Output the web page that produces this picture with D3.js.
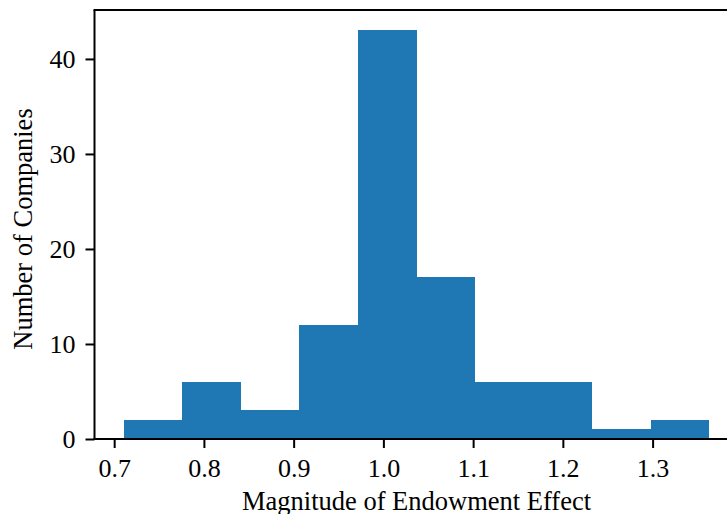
<!DOCTYPE html>
<html>
<head>
<meta charset="utf-8">
<script src="https://cdn.jsdelivr.net/npm/d3@7"></script>
<style>
  html, body { margin: 0; padding: 0; background: #fff; }
  svg { display: block; }
  text { font-family: "Liberation Serif", "Times New Roman", serif; fill: #000; }
</style>
</head>
<body>
<svg id="chart" width="727" height="514"></svg>
<script>
// ---- data ----
const binEdges = [0.7107, 0.7759, 0.8412, 0.9064, 0.9717, 1.0369, 1.1021, 1.1674, 1.2326, 1.2979, 1.3631];
const counts = [2, 6, 3, 12, 43, 17, 6, 6, 1, 2];
const xTicks = [0.7, 0.8, 0.9, 1.0, 1.1, 1.2, 1.3];
const yTicks = [0, 10, 20, 30, 40];
const xLabel = "Magnitude of Endowment Effect";
const yLabel = "Number of Companies";

// ---- layout ----
const svg = d3.select("#chart");
const pLeft = 94.5, pRight = 738.5, pTop = 10, pBottom = 439;
const xMin = binEdges[0], xMax = binEdges[binEdges.length - 1];
const xPad = (xMax - xMin) * 0.05;
const x = d3.scaleLinear().domain([xMin - xPad, xMax + xPad]).range([pLeft, pRight]);
const y = d3.scaleLinear().domain([0, d3.max(counts) * 1.05]).range([pBottom, pTop]);

const bins = counts.map((c, i) => ({ x0: binEdges[i], x1: binEdges[i + 1], c }));

svg.append("g").selectAll("rect").data(bins).join("rect")
  .attr("x", d => x(d.x0))
  .attr("width", d => x(d.x1) - x(d.x0))
  .attr("y", d => y(d.c))
  .attr("height", d => y(0) - y(d.c))
  .attr("fill", "#1f77b4")
  .attr("shape-rendering", "crispEdges");

// axes
const xAxis = d3.axisBottom(x).tickValues(xTicks).tickFormat(d3.format(".1f"))
  .tickSize(9).tickPadding(8);
const gx = svg.append("g").attr("transform", `translate(0,${pBottom})`).call(xAxis);
gx.select(".domain").remove();
gx.selectAll(".tick line").attr("stroke", "#000").attr("stroke-width", 2);
gx.selectAll(".tick text").style("font-size", "26px")
  .attr("y", 38).attr("dy", 0);

const yAxis = d3.axisLeft(y).tickValues(yTicks).tickFormat(d3.format("d"))
  .tickSize(9).tickPadding(10);
const gy = svg.append("g").attr("transform", `translate(${pLeft},0)`).call(yAxis);
gy.select(".domain").remove();
gy.selectAll(".tick line").attr("stroke", "#000").attr("stroke-width", 2);
gy.selectAll(".tick text").style("font-size", "26px")
  .attr("x", -19).attr("dy", "0.33em");

// spines
const sp = svg.append("g").attr("stroke", "#000").attr("stroke-width", 2).attr("fill", "none");
sp.append("line").attr("x1", pLeft).attr("x2", pLeft).attr("y1", pTop).attr("y2", pBottom + 1);
sp.append("line").attr("x1", pLeft - 1).attr("x2", pRight).attr("y1", pBottom).attr("y2", pBottom);
sp.append("line").attr("x1", pLeft - 1).attr("x2", pRight).attr("y1", pTop).attr("y2", pTop);
sp.append("line").attr("x1", pRight).attr("x2", pRight).attr("y1", pTop).attr("y2", pBottom);

// labels
svg.append("text").attr("x", (pLeft + pRight) / 2).attr("y", 510)
  .attr("text-anchor", "middle").style("font-size", "26.5px").text(xLabel);
svg.append("text").attr("transform", `translate(32,${229}) rotate(-90)`)
  .attr("text-anchor", "middle").style("font-size", "26.5px").text(yLabel);
</script>
</body>
</html>
